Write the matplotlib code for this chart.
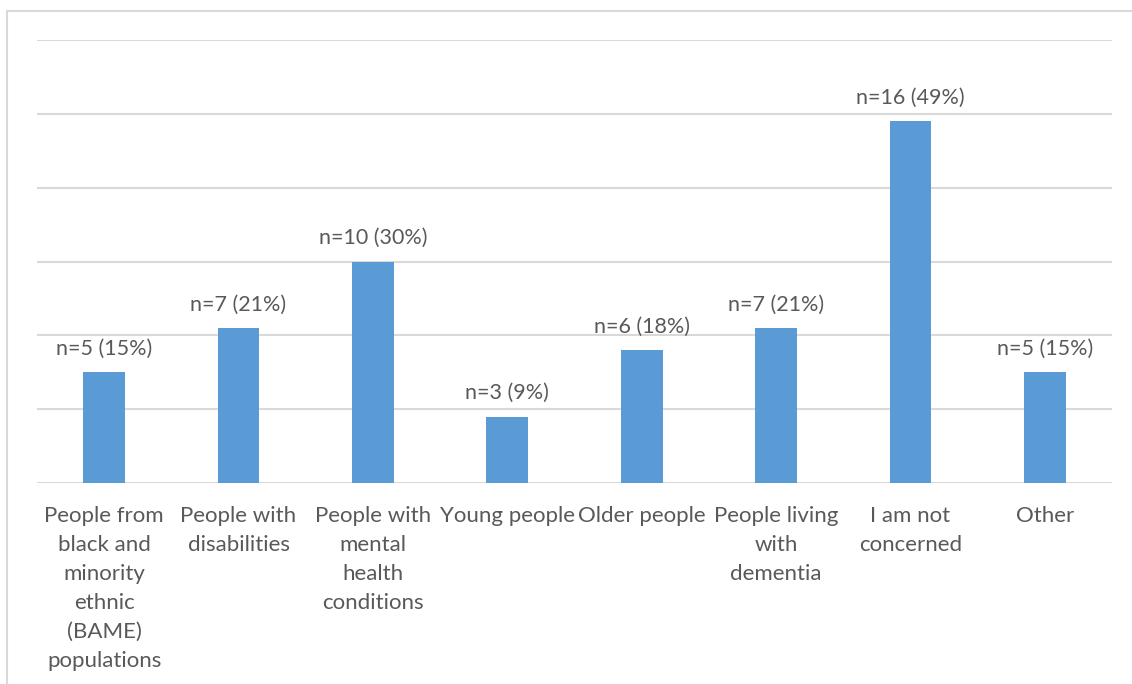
import matplotlib
matplotlib.use("Agg")
import matplotlib.pyplot as plt
from matplotlib.patches import Rectangle

categories = [
    "People from\nblack and\nminority\nethnic\n(BAME)\npopulations",
    "People with\ndisabilities",
    "People with\nmental\nhealth\nconditions",
    "Young people",
    "Older people",
    "People living\nwith\ndementia",
    "I am not\nconcerned",
    "Other",
]
counts = [5, 7, 10, 3, 6, 7, 16, 5]
percents = [15, 21, 30, 9, 18, 21, 49, 15]

BAR = "#5B9BD5"
TEXT = "#595959"
GRID = "#D9D9D9"

plt.rcParams["font.family"] = ["Lato", "DejaVu Sans"]

W, H = 1132, 684
fig = plt.figure(figsize=(W / 100, H / 100), dpi=100)
fig.patch.set_facecolor("white")

# chart frame (extends past the right and bottom edges)
fig.patches.append(Rectangle((7 / W, -0.05), 1.2, 1 - 11 / H + 0.05,
                             transform=fig.transFigure, fill=False,
                             edgecolor=GRID, linewidth=1.5, zorder=0))

ax = fig.add_axes([37 / W, 1 - 483 / H, (1112 - 37) / W, (483 - 40) / H])
x = range(len(categories))
ax.bar(x, percents, width=0.31, color=BAR, zorder=3)
ax.set_xlim(-0.5, len(categories) - 0.5)
ax.set_ylim(0, 60)
ax.set_yticks(range(0, 61, 10))
ax.yaxis.grid(True, color=GRID, linewidth=1.5, zorder=0)
ax.tick_params(axis="y", left=False, labelleft=False)
ax.tick_params(axis="x", bottom=False, pad=13, labelsize=16, labelcolor=TEXT)
ax.set_xticks(list(x))
ax.set_xticklabels(categories)
for lbl in ax.get_xticklabels():
    lbl.set_linespacing(1.56)
for s in ax.spines.values():
    s.set_visible(False)

for i, (n, p) in enumerate(zip(counts, percents)):
    ax.annotate(f"n={n} ({p}%)", (i, p), xytext=(0, 9.5), textcoords="offset points",
                ha="center", va="bottom", fontsize=15.5, color=TEXT)

fig.savefig("out.png", dpi=100)
